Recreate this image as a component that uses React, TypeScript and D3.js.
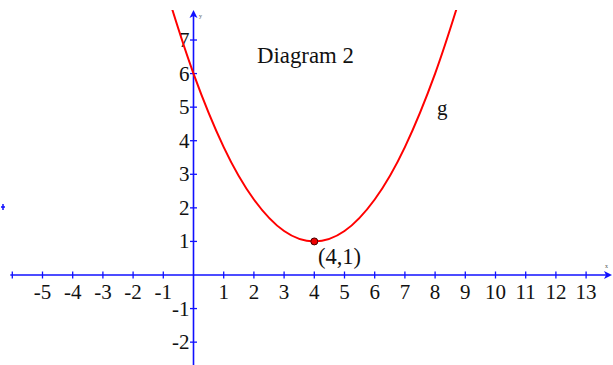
import React from "react";
import * as d3 from "d3";

const xTicks = [-6, -5, -4, -3, -2, -1, 1, 2, 3, 4, 5, 6, 7, 8, 9, 10, 11, 12, 13];
const xLabels = [-5, -4, -3, -2, -1, 1, 2, 3, 4, 5, 6, 7, 8, 9, 10, 11, 12, 13];
const yTicks = [-2, -1, 1, 2, 3, 4, 5, 6, 7];
const yLabels = [-2, -1, 1, 2, 3, 4, 5, 6, 7];
const curveX = [-0.7, 0, 1, 2, 3, 4, 5, 6, 7, 8, 8.7];
const curveY = [7.9, 6, 3.81, 2.25, 1.31, 1, 1.31, 2.25, 3.81, 6, 7.9];
const vertex = { x: 4, y: 1, label: "(4,1)" };

const W = 613;
const H = 365;
const BLUE = "#1010ff";
const FONT = "'Liberation Serif', 'Times New Roman', serif";

export default function App() {
  const x = d3.scaleLinear().domain([0, 13]).range([193.5, 193.5 + 13 * 30.2]);
  const y = d3.scaleLinear().domain([0, 7]).range([275, 275 - 7 * 33.57]);
  const line = d3
    .line<number>()
    .x((_, i) => x(curveX[i]))
    .y((d) => y(d))
    .curve(d3.curveNatural);
  const x0 = x(0);
  const y0 = y(0);
  return (
    <svg
      width={W}
      height={H}
      style={{ position: "absolute", left: 0, top: 0, background: "#fff" }}
      fontFamily={FONT}
    >
      <defs>
        <clipPath id="clip">
          <rect x={0} y={10} width={W} height={H} />
        </clipPath>
      </defs>
      {/* x axis */}
      <line x1={x(-6) - 2} x2={W - 3} y1={y0} y2={y0} stroke={BLUE} strokeWidth={1.6} />
      <path d={`M${W - 1},${y0} L${W - 9},${y0 - 4} L${W - 7},${y0} L${W - 9},${y0 + 4} Z`} fill={BLUE} />
      {xTicks.map((t) => (
        <line key={t} x1={x(t)} x2={x(t)} y1={y0 - 3.5} y2={y0 + 3.5} stroke={BLUE} strokeWidth={1.3} />
      ))}
      {xLabels.map((t) => (
        <text key={t} x={x(t)} y={y0 + 24} fontSize={21} textAnchor="middle" fill="#111">
          {t < 0 ? "-" + Math.abs(t) : String(t)}
        </text>
      ))}
      {/* y axis */}
      <line x1={x0} x2={x0} y1={14} y2={H + 2} stroke={BLUE} strokeWidth={1.6} />
      <path d={`M${x0},${10} L${x0 - 4},${18} L${x0},${16} L${x0 + 4},${18} Z`} fill={BLUE} />
      {yTicks.map((t) => (
        <line key={t} x1={x0 - 3.5} x2={x0 + 3.5} y1={y(t)} y2={y(t)} stroke={BLUE} strokeWidth={1.3} />
      ))}
      {yLabels.map((t) => (
        <text key={t} x={x0 - 4} y={y(t) + 7} fontSize={21} textAnchor="end" fill="#111">
          {t < 0 ? "-" + Math.abs(t) : String(t)}
        </text>
      ))}
      {/* tiny axis labels */}
      <text x={199} y={18} fontSize={6} fill="#555">y</text>
      <text x={605} y={268} fontSize={6} fill="#555">x</text>
      <path d="M1,207 L5,207 M3,204 L3,210" stroke={BLUE} strokeWidth={1.5} />
      {/* curve */}
      <path d={line(curveY) || ""} fill="none" stroke="#ff0000" strokeWidth={2} clipPath="url(#clip)" />
      <circle cx={x(vertex.x)} cy={y(vertex.y)} r={3.5} fill="#ee0000" stroke="#400" strokeWidth={1} />
      <text x={318} y={264} fontSize={22.5} fill="#111">{vertex.label}</text>
      <text x={257} y={63} fontSize={22.8} fill="#111">Diagram 2</text>
      <text x={437} y={115} fontSize={21} fill="#111">g</text>
    </svg>
  );
}
